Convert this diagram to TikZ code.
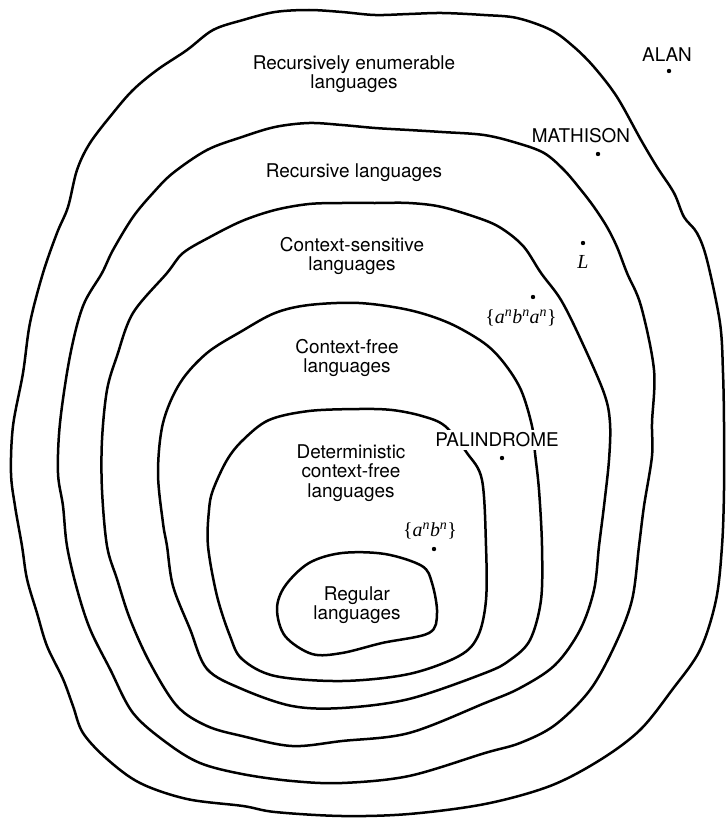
\documentclass[tikz,border=0pt]{standalone}
\usepackage{fontspec}
\setmainfont{TeX Gyre Heros}
\newfontfamily\tms{Liberation Serif}
\begin{document}
\begin{tikzpicture}[x=1bp,y=-1bp,
  curve/.style={line width=2.5bp, line join=round},
  lbl/.style={align=center, font=\fontsize{19}{19.5}\selectfont, inner sep=1bp},
  dot/.style={circle, fill, inner sep=0pt, minimum size=4.4bp},
  mth/.style={font=\tms\fontsize{20}{20}\selectfont, inner sep=0pt}]
\useasboundingbox (0,0) rectangle (727,819);
% Recursively enumerable
\draw[curve] plot[smooth cycle, tension=0.55] coordinates {
(43,273) (57,233) (68,207) (77,170) (90,143) (113,113) (133,90) (157,70) (187,50) (213,30) (243,20) (275,12) (309,10) (342,12) (375,15) (409,14) (442,13) (484,15) (517,18) (551,30) (574,47) (594,67) (617,97) (641,140) (657,167) (674,193) (684,217) (697,233) (707,260) (720,323) (723,373) (724,423) (724,490) (722,546) (716,600) (700,650) (672,690) (640,730) (600,760) (550,786) (485,804) (409,814) (342,816) (275,812) (243,806) (187,799) (140,783) (107,759) (83,733) (73,706) (63,679) (47,646) (37,613) (27,579) (22,546) (15,506) (11,473) (13,426) (23,373) (30,323)};
% Recursive
\draw[curve] plot[smooth cycle, tension=0.55] coordinates {
(102,273) (113,250) (133,217) (153,193) (173,173) (207,150) (242,137) (275,127) (309,123) (342,125) (375,128) (409,130) (442,132) (484,135) (517,143) (544,153) (564,170) (581,190) (594,207) (607,227) (617,247) (627,273) (641,306) (654,370) (652,423) (652,456) (644,506) (639,546) (632,600) (615,645) (590,690) (555,725) (520,743) (485,753) (409,776) (342,783) (292,781) (242,774) (200,763) (167,743) (133,713) (110,669) (90,629) (77,589) (67,546) (63,506) (58,473) (60,423) (70,356) (83,306)};
% Context-sensitive
\draw[curve] plot[smooth cycle, tension=0.55] coordinates {
(167,273) (183,253) (210,237) (242,221) (275,210) (309,204) (342,203) (375,203) (409,203) (442,207) (484,220) (504,230) (524,247) (541,273) (561,300) (581,340) (604,393) (610,423) (609,460) (604,506) (599,546) (594,590) (580,630) (555,665) (520,688) (485,703) (409,733) (342,741) (292,746) (242,736) (207,726) (177,706) (150,663) (130,619) (117,579) (107,546) (102,490) (102,440) (107,390) (117,356) (133,313)};
% Context-free
\draw[curve] plot[smooth cycle, tension=0.55] coordinates {
(158,473) (163,423) (180,383) (207,353) (242,331) (275,313) (309,305) (359,303) (409,310) (449,323) (484,343) (504,363) (521,390) (532,426) (535,453) (539,490) (542,546) (541,600) (530,640) (510,660) (485,673) (409,699) (342,708) (292,706) (242,689) (207,669) (190,629) (173,586) (167,546) (163,523)};
% Deterministic context-free
\draw[curve] plot[smooth cycle, tension=0.55] coordinates {
(208,546) (209,510) (213,490) (227,460) (243,440) (269,420) (309,411) (359,409) (392,410) (422,416) (445,426) (467,453) (482,480) (486,546) (486,600) (478,636) (459,656) (409,674) (342,681) (275,676) (242,659) (230,636) (217,596)};
% Regular
\draw[curve] plot[smooth cycle, tension=0.55] coordinates {
(342,553) (385,554) (422,566) (432,583) (437,613) (429,633) (382,643) (342,653) (312,654) (285,636) (277,609) (285,586) (309,563)};

% labels
\node[lbl] (re) at (354,74) {Recursively enumerable\\languages};
\node[lbl] (rec) at (354,173) {Recursive languages};
\node[lbl] (cs) at (352,256) {Context-sensitive\\languages};
\node[lbl] (cf) at (347,358) {Context-free\\languages};
\node[lbl] (dcf) at (351,473) {Deterministic\\context-free\\languages};
\node[lbl] (reg) at (357,605) {Regular\\languages};

\node[lbl] (alan) at (667,55) {ALAN};
\node[dot] (alandot) at (669,71) {};
\node[lbl] (math) at (581,136) {MATHISON};
\node[dot] (mathdot) at (598,154) {};
\node[dot] (ldot) at (583,243) {};
\node[mth] (l) at (583,262) {\textit{L}};
\node[dot] (abadot) at (533,297) {};
\node[mth] (aba) at (521,318) {\{\textit{a\textsuperscript{n}b\textsuperscript{n}a\textsuperscript{n}}\}};
\node[lbl, fill=white, inner sep=3bp] (pal) at (497,440) {PALINDROME};
\node[dot] (paldot) at (502,458) {};
\node[mth] (ab) at (430,531) {\{\textit{a\textsuperscript{n}b\textsuperscript{n}}\}};
\node[dot] (abdot) at (434,549) {};
\end{tikzpicture}
\end{document}
